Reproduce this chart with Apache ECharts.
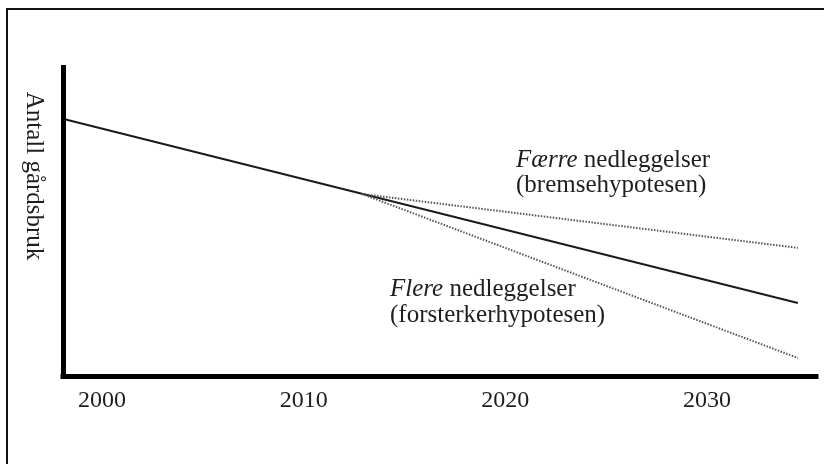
<!DOCTYPE html>
<html><head><meta charset="utf-8">
<script src="https://cdn.jsdelivr.net/npm/echarts@6/dist/echarts.min.js"></script>
<style>html,body{margin:0;padding:0;background:#fff}#c{width:824px;height:464px}</style>
</head><body><div id="c"></div>
<script>
// ---- data ----
const tickYears = [2000, 2010, 2020, 2030];
const trendYears = [1998.2, 2034.5];
const trendValues = [82.5, 23.5];
const slowerYears = [2012.9, 2034.5];
const slowerValues = [58.5, 41.2];
const fasterYears = [2012.9, 2034.5];
const fasterValues = [58.5, 5.8];
const yAxisTitle = 'Antall gårdsbruk';
const slowerTitle = ['Færre', ' nedleggelser'];
const slowerSub = '(bremsehypotesen)';
const fasterTitle = ['Flere', ' nedleggelser'];
const fasterSub = '(forsterkerhypotesen)';

const pairs = (xs, ys) => xs.map((x, i) => [x, ys[i]]);
const FONT = '"Liberation Serif", "DejaVu Serif", serif';
const TXT = '#1e1e1e';
const FS = 25;

const chart = echarts.init(document.getElementById('c'), null, {renderer: 'canvas'});
const dotted = {color: '#555', width: 2, type: [1.5, 1.5]};

chart.setOption({
  backgroundColor: '#fff',
  animation: false,
  grid: {left: 63, right: 8, top: 65, bottom: 88, containLabel: false},
  xAxis: {
    type: 'value', min: 1998.07, max: 2035.4,
    axisLine: {show: true, lineStyle: {color: '#000', width: 5, cap: 'square'}},
    axisTick: {show: false},
    splitLine: {show: false},
    axisLabel: {
      customValues: tickYears, margin: 13,
      color: TXT, fontFamily: FONT, fontSize: 24,
      formatter: v => String(Math.round(v))
    }
  },
  yAxis: {
    type: 'value', min: 0, max: 100,
    axisLine: {show: true, onZero: false, lineStyle: {color: '#000', width: 5, cap: 'butt'}},
    axisTick: {show: false},
    splitLine: {show: false},
    axisLabel: {show: false}
  },
  series: [
    {type: 'line', data: pairs(trendYears, trendValues), symbol: 'none',
     lineStyle: {color: '#1a1a1a', width: 2}},
    {type: 'line', data: pairs(slowerYears, slowerValues), symbol: 'none',
     lineStyle: dotted},
    {type: 'line', data: pairs(fasterYears, fasterValues), symbol: 'none',
     lineStyle: dotted}
  ],
  graphic: [
    {type: 'polyline', silent: true,
     shape: {points: [[7, 470], [7, 9], [830, 9]]},
     style: {stroke: '#111', lineWidth: 2, fill: null}},
    {type: 'text', x: 34, y: 176, rotation: -Math.PI / 2,
     style: {text: yAxisTitle, fill: TXT, fontFamily: FONT, fontSize: 25,
             textAlign: 'center', textVerticalAlign: 'middle'}},
    {type: 'text', x: 516, y: 160,
     style: {text: '{i|' + slowerTitle[0] + '}' + slowerTitle[1], fill: TXT, fontFamily: FONT, fontSize: FS,
             textAlign: 'left', textVerticalAlign: 'middle',
             rich: {i: {fontStyle: 'italic', fontFamily: FONT, fontSize: FS, fill: TXT}}}},
    {type: 'text', x: 516, y: 185,
     style: {text: slowerSub, fill: TXT, fontFamily: FONT, fontSize: FS,
             textAlign: 'left', textVerticalAlign: 'middle'}},
    {type: 'text', x: 390, y: 289,
     style: {text: '{i|' + fasterTitle[0] + '}' + fasterTitle[1], fill: TXT, fontFamily: FONT, fontSize: FS,
             textAlign: 'left', textVerticalAlign: 'middle',
             rich: {i: {fontStyle: 'italic', fontFamily: FONT, fontSize: FS, fill: TXT}}}},
    {type: 'text', x: 390, y: 315,
     style: {text: fasterSub, fill: TXT, fontFamily: FONT, fontSize: FS,
             textAlign: 'left', textVerticalAlign: 'middle'}}
  ]
});
</script></body></html>
